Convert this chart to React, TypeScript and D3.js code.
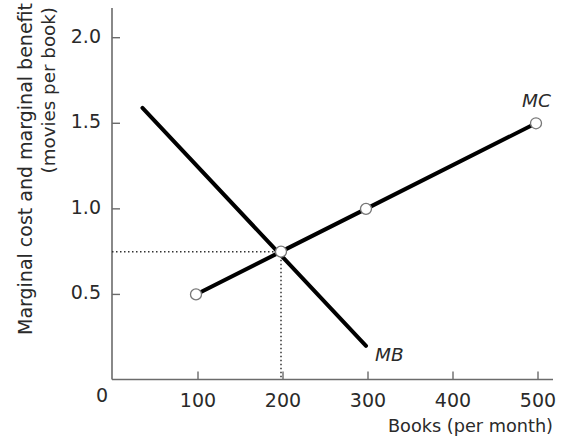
import React from "react";
import * as d3 from "d3";

const mcBooks = [100, 200, 300, 500];
const mcValues = [0.5, 0.75, 1.0, 1.5];
const mbBooks = [37, 300];
const mbValues = [1.59, 0.2];
const xTicks = [100, 200, 300, 400, 500];
const yTicks = [0.5, 1.0, 1.5, 2.0];
const equilibrium = { books: 200, value: 0.75 };
const xTitle = "Books (per month)";
const yTitle1 = "Marginal cost and marginal benefit";
const yTitle2 = "(movies per book)";

const W = 565;
const H = 442;
const FONT = "'DejaVu Sans', sans-serif";

export default function App() {
  const x = d3.scaleLinear().domain([0, 500]).range([111, 536]);
  const y = d3.scaleLinear().domain([0, 2]).range([380, 37.7]);
  const axisX0 = 112;
  const axisY0 = 379.5;
  const line = d3
    .line<[number, number]>()
    .x((d) => x(d[0]))
    .y((d) => y(d[1]));
  const mcPts: [number, number][] = mcBooks.map((b, i) => [b, mcValues[i]]);
  const mbPts: [number, number][] = mbBooks.map((b, i) => [b, mbValues[i]]);
  const axisColor = "#6b6b6b";
  const textColor = "#2a2a2a";

  return (
    <svg
      width={W}
      height={H}
      style={{ position: "absolute", left: 0, top: 0, background: "#fff" }}
      fontFamily={FONT}
    >
      {/* axes */}
      <line x1={axisX0} y1={8} x2={axisX0} y2={axisY0} stroke={axisColor} strokeWidth={1.6} />
      <line x1={axisX0} y1={axisY0} x2={553} y2={axisY0} stroke={axisColor} strokeWidth={1.6} />
      {yTicks.map((t) => (
        <g key={"y" + t}>
          <line x1={axisX0} x2={axisX0 + 8} y1={y(t)} y2={y(t)} stroke={axisColor} strokeWidth={1.4} />
          <text
            x={101}
            y={y(t) - 2}
            textAnchor="end"
            dominantBaseline="central"
            fontSize={19}
            fill={textColor}
          >
            {t.toFixed(1)}
          </text>
        </g>
      ))}
      {xTicks.map((t) => (
        <g key={"x" + t}>
          <line x1={x(t) + 2} x2={x(t) + 2} y1={axisY0} y2={axisY0 - 8} stroke={axisColor} strokeWidth={1.4} />
          <text x={x(t) + 2} y={407} textAnchor="middle" fontSize={19} fill={textColor}>
            {t}
          </text>
        </g>
      ))}
      <text x={102} y={402} textAnchor="middle" fontSize={19} fill={textColor}>
        0
      </text>

      {/* titles */}
      <text x={553} y={432} textAnchor="end" fontSize={17.7} fill={textColor}>
        {xTitle}
      </text>
      <text
        transform={`translate(32,3) rotate(-90)`}
        textAnchor="end"
        fontSize={19}
        fill={textColor}
      >
        {yTitle1}
      </text>
      <text
        transform={`translate(55,7) rotate(-90)`}
        textAnchor="end"
        fontSize={18.3}
        fill={textColor}
      >
        {yTitle2}
      </text>

      {/* dotted guides */}
      <line
        x1={axisX0}
        x2={x(equilibrium.books)}
        y1={y(equilibrium.value)}
        y2={y(equilibrium.value)}
        stroke="#333"
        strokeWidth={1.5}
        strokeDasharray="1.5,2.5"
      />
      <line
        x1={x(equilibrium.books)}
        x2={x(equilibrium.books)}
        y1={y(equilibrium.value)}
        y2={axisY0}
        stroke="#333"
        strokeWidth={1.5}
        strokeDasharray="1.5,2.5"
      />

      {/* curves */}
      <path d={line(mbPts) || ""} fill="none" stroke="#000" strokeWidth={4} strokeLinecap="round" />
      <path d={line(mcPts) || ""} fill="none" stroke="#000" strokeWidth={4} />
      {mcPts.map((p, i) => (
        <circle key={i} cx={x(p[0])} cy={y(p[1])} r={5.5} fill="#fff" stroke="#777" strokeWidth={1.3} />
      ))}

      {/* labels */}
      <text x={522} y={107} fontSize={18.5} fontStyle="italic" fill={textColor}>
        MC
      </text>
      <text x={375} y={361} fontSize={18.5} fontStyle="italic" fill={textColor}>
        MB
      </text>
    </svg>
  );
}
